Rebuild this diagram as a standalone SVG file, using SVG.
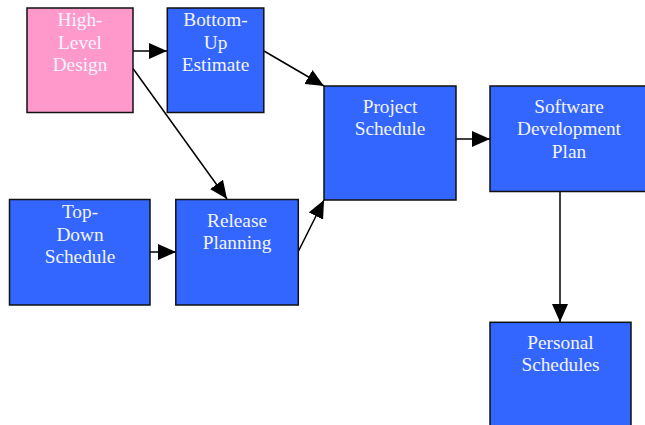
<svg xmlns="http://www.w3.org/2000/svg" width="645" height="425" viewBox="0 0 645 425">
<defs>
<marker id="arr" markerWidth="18" markerHeight="16" refX="18" refY="8" orient="auto" markerUnits="userSpaceOnUse">
<path d="M0,0 L18,8 L0,16 Z" fill="#000"/>
</marker>
<style>
.n{fill:#3366ff;stroke:#111;stroke-width:1.5}
.p{fill:#ff99cc;stroke:#111;stroke-width:1.5}
.t{font-family:"Liberation Serif","Times New Roman",serif;font-size:19.3px;fill:#f4f4ff;text-anchor:middle}
.e{stroke:#000;stroke-width:1.5;fill:none;marker-end:url(#arr)}
</style>
</defs>
<rect width="645" height="425" fill="#fff"/>
<g id="edges">
<line class="e" x1="133" y1="51" x2="167" y2="51"/>
<line class="e" x1="133" y1="68.5" x2="227" y2="199"/>
<line class="e" x1="264" y1="51" x2="324" y2="86"/>
<line class="e" x1="150" y1="252" x2="176" y2="252"/>
<line class="e" x1="298.5" y1="251" x2="324" y2="200"/>
<line class="e" x1="456" y1="139" x2="490" y2="139"/>
<line class="e" x1="560" y1="191.5" x2="560" y2="322"/>
</g>
<g id="hld">
<rect class="p" x="27" y="8" width="106" height="104.5"/>
<text class="t" x="80" y="26">High-</text>
<text class="t" x="80" y="48.5">Level</text>
<text class="t" x="80" y="71">Design</text>
</g>
<g id="bue">
<rect class="n" x="167.3" y="8" width="96.5" height="104.5"/>
<text class="t" x="215.5" y="26">Bottom-</text>
<text class="t" x="215.5" y="48.5">Up</text>
<text class="t" x="215.5" y="71">Estimate</text>
</g>
<g id="ps">
<rect class="n" x="324" y="86" width="132" height="114"/>
<text class="t" x="390" y="112.5">Project</text>
<text class="t" x="390" y="135">Schedule</text>
</g>
<g id="sdp">
<rect class="n" x="490" y="86" width="160" height="105.5"/>
<text class="t" x="569" y="112.5">Software</text>
<text class="t" x="569" y="135">Development</text>
<text class="t" x="569" y="157.5">Plan</text>
</g>
<g id="tds">
<rect class="n" x="9.5" y="199.5" width="140.5" height="105.5"/>
<text class="t" x="80" y="218">Top-</text>
<text class="t" x="80" y="240.5">Down</text>
<text class="t" x="80" y="263">Schedule</text>
</g>
<g id="rp">
<rect class="n" x="175.8" y="199.5" width="122.5" height="105.5"/>
<text class="t" x="237" y="226.5">Release</text>
<text class="t" x="237" y="249">Planning</text>
</g>
<g id="pers">
<rect class="n" x="490" y="322.3" width="141" height="110"/>
<text class="t" x="560.5" y="348.5">Personal</text>
<text class="t" x="560.5" y="371">Schedules</text>
</g>
</svg>
